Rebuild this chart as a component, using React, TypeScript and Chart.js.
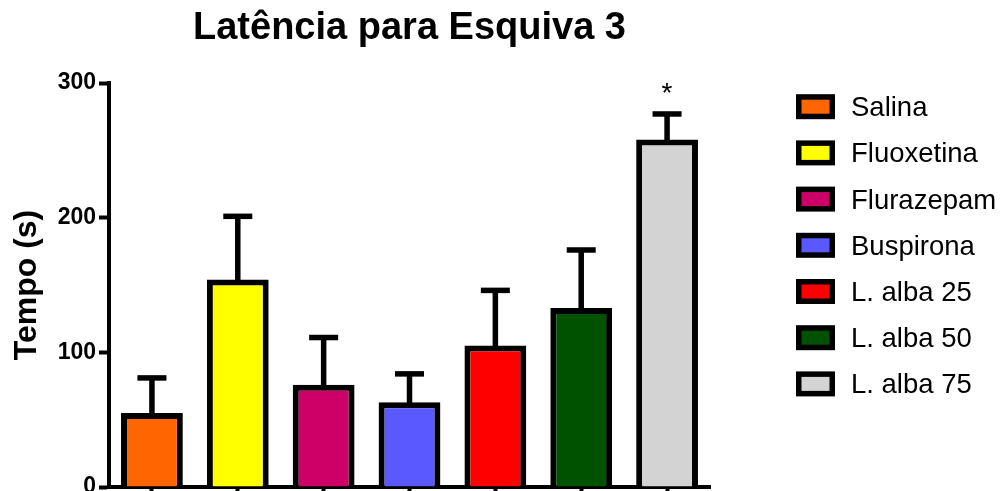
import React, { useEffect, useRef } from "react";
import { Chart, registerables } from "chart.js";

Chart.register(...registerables);

// Chart text
const TITLE = "Latência para Esquiva 3";
const Y_TITLE = "Tempo (s)";

// Groups, means and standard errors (seconds)
const groups = ["Salina", "Fluoxetina", "Flurazepam", "Buspirona", "L. alba 25", "L. alba 50", "L. alba 75"];
const means = [55, 154, 76, 63, 105, 133, 258];
const sem = [26, 47, 35, 21, 41, 43, 19];
const significant = [false, false, false, false, false, false, true];
const fills = ["#FF6600", "#FFFF00", "#CC0066", "#5959FF", "#FF0000", "#005200", "#D3D3D3"];

// Y axis
const Y_MIN = 0;
const Y_MAX = 300;
const Y_STEP = 100;

const FONT = "'Liberation Sans', Arial, Helvetica, sans-serif";

// Error bars, significance marks, title and legend drawn on top of the bars
const overlay = {
  id: "overlay",
  afterDraw(chart: any) {
    const { ctx, chartArea } = chart;
    const yScale = chart.scales.y;
    const meta = chart.getDatasetMeta(0);
    ctx.save();
    ctx.fillStyle = "#000";

    meta.data.forEach((bar: any, i: number) => {
      const cx = bar.x;
      const top = yScale.getPixelForValue(means[i]);
      const hi = yScale.getPixelForValue(means[i] + sem[i]);
      // stem
      ctx.fillRect(cx - 2.75, hi, 5.5, top - hi + 3);
      // cap
      ctx.fillRect(cx - 14.5, hi - 2.75, 29, 5.5);
      if (significant[i]) {
        ctx.font = `28px ${FONT}`;
        ctx.textAlign = "center";
        ctx.textBaseline = "alphabetic";
        ctx.fillText("*", cx, hi - 28 + 16);
      }
    });

    // title
    ctx.font = `bold 38px ${FONT}`;
    ctx.textAlign = "center";
    ctx.textBaseline = "alphabetic";
    ctx.fillText(TITLE, (chartArea.left + chartArea.right) / 2, 38.5);

    // legend
    const boxX = 796;
    const boxW = 39;
    const boxH = 25;
    const b = 5.5;
    const rowTop = 106.7;
    const rowGap = 46.2;
    ctx.font = `27.5px ${FONT}`;
    ctx.textAlign = "left";
    groups.forEach((g, i) => {
      const cy = rowTop + rowGap * i;
      ctx.fillStyle = "#000";
      ctx.fillRect(boxX, cy - boxH / 2, boxW, boxH);
      ctx.fillStyle = fills[i];
      ctx.fillRect(boxX + b, cy - boxH / 2 + b, boxW - 2 * b, boxH - 2 * b);
      ctx.fillStyle = "#000";
      ctx.fillText(g, 851, cy + 9.5);
    });

    ctx.restore();
  },
};

export default function App() {
  const canvasRef = useRef<HTMLCanvasElement | null>(null);

  useEffect(() => {
    const canvas = canvasRef.current;
    if (!canvas) return;
    const chart = new Chart(canvas, {
      type: "bar",
      data: {
        labels: groups,
        datasets: [
          {
            data: means,
            backgroundColor: fills,
            borderColor: "#000",
            borderWidth: 6,
            borderSkipped: "start",
            barPercentage: 0.72,
            categoryPercentage: 1,
          },
        ],
      },
      options: {
        responsive: false,
        animation: false,
        devicePixelRatio: 1,
        layout: { padding: { left: 0, right: 298, top: 83, bottom: 0 } },
        plugins: {
          legend: { display: false },
          title: { display: false },
          tooltip: { enabled: false },
        },
        scales: {
          x: {
            type: "category",
            z: 1,
            ticks: { display: false },
            grid: {
              display: true,
              offset: false,
              drawOnChartArea: false,
              drawTicks: true,
              tickLength: 10,
              tickWidth: 4,
              tickColor: "#000",
              color: "#000",
            },
            border: { display: true, color: "#000", width: 4 },
            afterFit: (scale: any) => {
              scale.height = 4;
              scale.paddingLeft = 0;
              scale.paddingRight = 0;
            },
          },
          y: {
            min: Y_MIN,
            max: Y_MAX,
            ticks: {
              stepSize: Y_STEP,
              color: "#000",
              padding: 3,
              font: { family: FONT, size: 23, weight: "bold" },
            },
            grid: {
              display: true,
              drawOnChartArea: false,
              drawTicks: true,
              tickLength: 10,
              tickWidth: 4,
              tickColor: "#000",
              color: "#000",
            },
            border: { display: true, color: "#000", width: 4 },
            title: {
              display: true,
              text: Y_TITLE,
              color: "#000",
              padding: { top: 8, bottom: 0 },
              font: { family: FONT, size: 32, weight: "bold" },
            },
            afterFit: (scale: any) => {
              scale.width = 109;
              scale.paddingTop = 0;
              scale.paddingBottom = 0;
            },
          },
        },
      },
      plugins: [overlay],
    });
    return () => chart.destroy();
  }, []);

  return (
    <div style={{ position: "fixed", left: 0, top: 0, width: 1008, height: 491, background: "#fff" }}>
      <canvas ref={canvasRef} width={1008} height={491} />
    </div>
  );
}
